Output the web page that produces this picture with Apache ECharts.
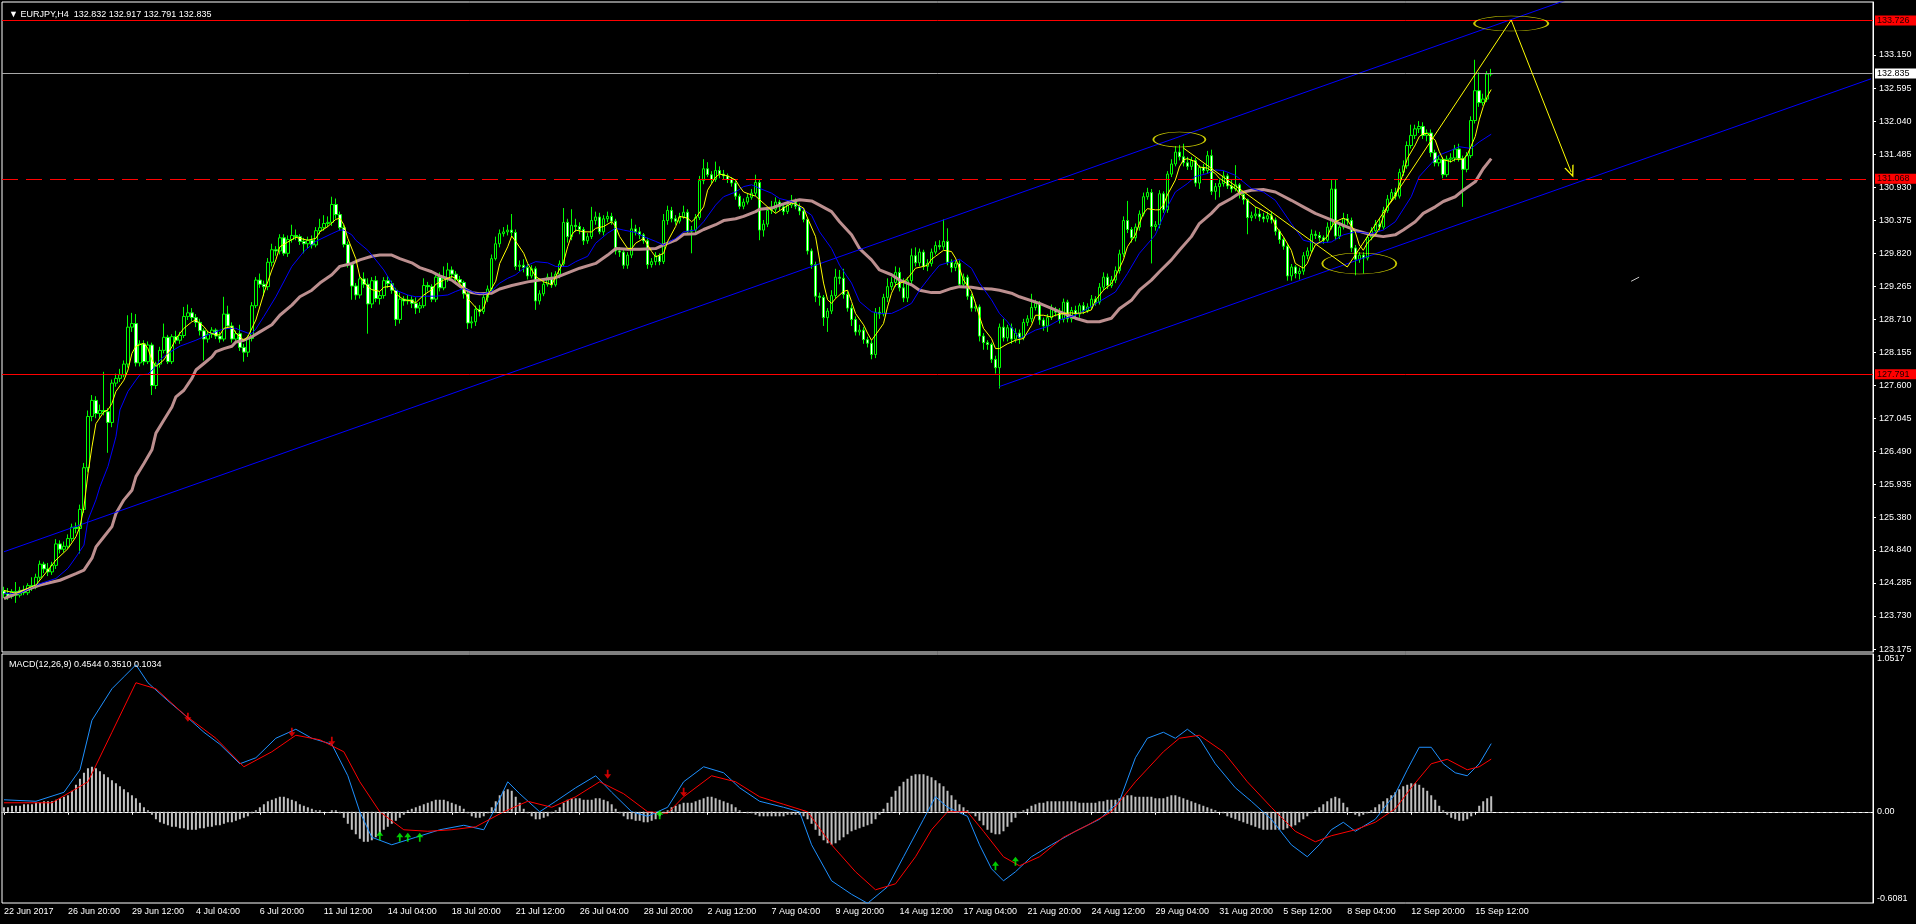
<!DOCTYPE html>
<html><head><meta charset="utf-8">
<script src="https://cdn.jsdelivr.net/npm/echarts@6/dist/echarts.min.js"></script>
<style>html,body{margin:0;padding:0;background:#000;overflow:hidden}#c{width:1916px;height:924px}</style>
</head><body><div id="c"></div>
<script>
const symbolName = 'EURJPY,H4';
const tickLabels = ['22 Jun 2017','26 Jun 20:00','29 Jun 12:00','4 Jul 04:00','6 Jul 20:00','11 Jul 12:00','14 Jul 04:00','18 Jul 20:00','21 Jul 12:00','26 Jul 04:00','28 Jul 20:00','2 Aug 12:00','7 Aug 04:00','9 Aug 20:00','14 Aug 12:00','17 Aug 04:00','21 Aug 20:00','24 Aug 12:00','29 Aug 04:00','31 Aug 20:00','5 Sep 12:00','8 Sep 04:00','12 Sep 20:00','15 Sep 12:00'];
const priceTicks = [123.175,123.730,124.285,124.840,125.380,125.935,126.490,127.045,127.600,128.155,128.710,129.265,129.820,130.375,130.930,131.485,132.040,132.595,133.150];
const macdTicks = [-0.6081, 0, 1.0517];

const open = [
124.15,124.10,124.06,124.14,124.08,124.16,124.12,124.24,124.22,124.38,
124.60,124.52,124.47,124.58,124.94,124.85,124.90,125.03,125.22,125.20,
125.52,126.22,127.08,127.35,127.13,127.18,127.16,126.98,127.64,127.72,
127.78,127.96,128.58,128.64,127.98,128.30,128.00,128.28,127.60,127.96,
128.19,128.41,128.00,128.42,128.36,128.44,128.76,128.82,128.74,128.66,
128.52,128.38,128.46,128.53,128.43,128.38,128.80,128.60,128.38,128.47,
128.24,128.16,128.39,128.94,129.37,129.30,129.26,129.67,129.88,129.86,
130.08,129.82,130.05,130.12,130.10,130.02,129.98,130.04,129.96,130.20,
130.25,130.32,130.34,130.64,130.47,130.25,129.97,129.63,129.27,129.12,
129.39,129.30,128.97,129.36,129.06,129.11,129.36,129.31,129.20,128.71,
129.05,129.02,129.04,128.98,128.90,128.94,129.28,129.26,129.05,129.42,
129.24,129.40,129.54,129.47,129.38,129.33,129.14,128.65,128.67,128.88,
128.84,129.08,129.22,129.73,129.98,130.15,130.18,130.21,130.17,129.60,
129.62,129.58,129.44,129.56,129.02,129.14,129.30,129.42,129.29,129.47,
129.64,130.34,130.10,130.29,130.27,130.22,130.03,130.10,130.37,130.43,
130.18,130.40,130.44,130.36,129.86,129.84,129.62,129.79,130.23,130.18,
130.13,130.03,129.63,129.68,129.78,129.68,130.37,130.54,130.40,130.36,
130.43,130.51,130.19,130.21,130.42,131.04,131.24,131.14,131.06,131.21,
131.15,131.12,131.06,131.00,130.78,130.61,130.68,130.76,130.83,131.01,
130.21,130.31,130.54,130.56,130.68,130.60,130.52,130.63,130.68,130.61,
130.53,130.39,129.86,129.63,129.10,129.08,128.74,128.85,129.11,129.42,
129.40,129.13,128.90,128.71,128.50,128.53,128.37,128.31,128.12,128.83,
128.80,129.08,129.26,129.33,129.50,129.24,129.07,129.36,129.78,129.66,
129.84,129.60,129.65,129.84,129.95,129.93,130.02,129.67,129.58,129.65,
129.30,129.42,129.10,128.90,128.92,128.43,128.32,128.29,128.04,127.90,
128.58,128.40,128.57,128.38,128.48,128.40,128.66,128.72,128.91,128.98,
128.70,128.60,128.74,128.88,128.83,128.71,129.00,128.72,128.86,128.80,
128.94,128.86,128.92,129.05,129.00,129.25,129.42,129.28,129.37,129.53,
129.81,130.37,130.22,130.08,130.26,130.48,130.77,130.84,130.27,130.30,
130.82,130.55,131.15,131.32,131.52,131.44,131.34,131.28,131.38,131.00,
131.26,131.21,131.46,130.86,130.94,130.99,131.12,130.95,130.90,130.97,
130.81,130.72,130.42,130.45,130.48,130.43,130.40,130.45,130.38,130.19,
130.05,129.94,129.44,129.59,129.48,129.52,129.78,129.86,130.14,130.12,
130.08,130.04,130.26,130.90,130.11,130.26,130.40,130.37,129.91,129.72,
129.79,129.74,130.09,130.20,130.31,130.26,130.54,130.73,130.84,130.78,
131.18,131.29,131.63,131.80,131.91,131.95,131.80,131.84,131.51,131.34,
131.40,131.14,131.40,131.42,131.57,131.41,131.23,131.46,132.05,132.55,
132.35,132.41,132.832];
const high = [
124.22,124.20,124.18,124.30,124.22,124.24,124.28,124.38,124.44,124.66,
124.64,124.62,124.64,125.02,125.00,124.98,125.10,125.28,125.30,125.60,
126.30,127.18,127.44,127.42,127.28,127.83,127.22,127.70,127.80,127.88,
128.02,128.78,128.82,128.80,128.36,128.36,128.34,128.32,128.00,128.25,
128.64,128.45,128.46,128.52,128.50,128.92,128.96,128.90,128.80,128.72,
128.56,128.52,128.58,128.56,128.50,129.09,128.94,128.66,128.52,128.62,
128.30,128.44,129.00,129.42,129.48,129.36,129.74,129.98,129.94,130.14,
130.14,130.12,130.30,130.22,130.14,130.08,130.10,130.12,130.26,130.40,
130.46,130.44,130.77,130.74,130.52,130.30,130.02,129.66,129.32,129.46,
129.50,129.40,129.42,129.44,129.18,129.42,129.44,129.36,129.24,129.16,
129.10,129.12,129.10,129.08,129.00,129.40,129.34,129.30,129.50,129.50,
129.60,129.66,129.60,129.52,129.44,129.36,129.18,128.76,128.94,128.95,
129.14,129.28,129.80,130.10,130.22,130.26,130.30,130.48,130.22,129.70,
129.72,129.64,129.62,129.60,129.20,129.36,129.48,129.50,129.52,129.70,
130.58,130.40,130.56,130.40,130.34,130.26,130.16,130.60,130.52,130.50,
130.46,130.52,130.50,130.40,129.92,129.90,129.84,130.40,130.30,130.26,
130.16,130.08,129.74,129.84,129.82,130.48,130.62,130.60,130.46,130.50,
130.62,130.56,130.28,130.48,131.12,131.40,131.35,131.20,131.36,131.28,
131.22,131.16,131.10,131.04,130.82,130.74,130.82,130.90,131.14,131.06,
130.38,130.60,130.70,130.76,130.72,130.66,130.68,130.80,130.74,130.66,
130.58,130.42,129.90,129.68,129.16,129.12,128.90,129.20,129.56,129.54,
129.56,129.18,128.96,128.76,128.62,128.58,128.42,128.36,128.90,128.92,
129.14,129.40,129.42,129.60,129.58,129.40,129.42,129.90,129.92,129.90,
129.88,129.72,129.90,130.02,130.04,130.39,130.24,129.72,129.70,129.70,
129.48,129.46,129.14,128.98,128.96,128.48,128.36,128.32,128.10,128.64,
128.72,128.62,128.64,128.56,128.54,128.72,128.78,129.14,129.04,129.02,
128.74,128.80,128.96,128.92,128.90,129.06,129.04,128.92,128.94,128.98,
129.00,128.98,129.12,129.10,129.32,129.50,129.48,129.44,129.60,129.88,
130.44,130.70,130.26,130.32,130.54,130.84,130.92,130.90,130.36,130.88,
130.86,131.20,131.40,131.62,131.64,131.66,131.44,131.44,131.42,131.30,
131.32,131.54,131.56,131.00,131.06,131.20,131.16,131.06,131.30,131.00,
130.86,130.74,130.52,130.60,130.56,130.50,130.52,130.52,130.42,130.22,
130.08,129.98,129.64,129.62,129.58,129.84,129.92,130.22,130.20,130.18,
130.12,130.34,131.05,131.05,130.32,130.50,130.48,130.42,129.96,129.84,
129.84,130.16,130.26,130.38,130.40,130.60,130.80,130.90,130.92,131.24,
131.38,131.70,131.98,131.98,132.04,132.02,131.90,131.90,131.56,131.46,
131.44,131.46,131.50,131.64,131.66,131.46,131.52,132.12,133.07,132.86,
132.50,132.88,132.917];
const low = [
124.03,124.00,124.02,123.95,124.04,124.08,124.08,124.15,124.18,124.34,
124.45,124.40,124.42,124.52,124.78,124.80,124.86,124.98,125.12,124.78,
125.46,126.15,127.00,127.05,127.05,127.10,126.47,126.90,127.58,127.66,
127.74,127.90,128.50,127.92,127.92,127.94,127.96,127.44,127.54,127.90,
128.14,127.96,127.96,128.30,128.30,128.40,128.70,128.68,128.58,128.44,
128.02,128.32,128.40,128.38,128.32,128.34,128.56,128.32,128.34,128.18,
128.00,128.08,128.34,128.90,129.24,129.10,129.20,129.60,129.78,129.80,
129.78,129.76,130.00,130.04,129.96,129.82,129.90,129.90,129.92,130.14,
130.20,130.26,130.28,130.40,130.20,129.92,129.58,129.04,129.04,129.06,
129.24,128.47,128.90,129.00,128.96,129.06,129.24,129.14,128.60,128.64,
128.94,128.96,128.90,128.80,128.82,128.90,129.18,129.00,129.00,129.18,
129.20,129.34,129.40,129.30,129.26,129.06,128.55,128.56,128.60,128.76,
128.80,129.00,129.18,129.70,129.92,130.10,130.12,130.10,129.54,129.52,
129.50,129.38,129.40,128.87,128.96,129.10,129.26,129.24,129.26,129.40,
129.60,130.00,130.04,130.18,130.14,129.96,129.98,130.06,130.30,130.14,
130.12,130.34,130.30,129.80,129.76,129.56,129.56,129.74,130.12,130.06,
129.98,129.56,129.58,129.62,129.62,129.64,130.30,130.34,130.30,130.32,
130.40,130.14,129.82,130.16,130.38,130.98,131.10,131.00,131.02,131.08,
131.06,131.00,130.94,130.72,130.56,130.56,130.64,130.72,130.78,130.04,
130.10,130.26,130.48,130.50,130.54,130.46,130.48,130.58,130.56,130.46,
130.34,129.80,129.56,129.00,128.94,128.60,128.50,128.80,129.06,129.30,
129.06,128.84,128.60,128.44,128.44,128.30,128.24,128.04,128.06,128.72,
128.76,129.00,129.20,129.26,129.18,129.00,129.00,129.30,129.60,129.60,
129.54,129.52,129.60,129.80,129.88,129.88,129.62,129.50,129.52,129.24,
129.24,129.04,128.84,128.84,128.34,128.20,128.20,127.98,127.80,127.55,
128.34,128.34,128.30,128.32,128.30,128.36,128.60,128.66,128.86,128.62,
128.52,128.50,128.70,128.76,128.64,128.66,128.66,128.66,128.74,128.74,
128.80,128.82,128.88,128.94,128.96,129.20,129.22,129.24,129.32,129.48,
129.76,130.16,130.00,130.02,130.20,130.44,130.72,129.65,130.20,130.24,
130.50,130.50,131.10,131.28,131.38,131.28,131.22,131.22,130.94,130.90,
131.16,131.16,130.80,130.72,130.76,130.94,130.90,130.84,130.86,130.74,
130.64,130.14,130.36,130.40,130.36,130.34,130.34,130.32,130.12,129.98,
129.88,129.36,129.36,129.40,129.38,129.46,129.72,129.82,130.06,130.02,
129.98,130.00,130.22,130.04,130.06,130.22,130.30,129.84,129.45,129.66,
129.48,129.70,130.04,130.14,130.20,130.22,130.50,130.68,130.72,130.74,
131.12,131.24,131.58,131.74,131.84,131.74,131.70,131.44,131.28,131.28,
131.08,131.10,131.34,131.36,131.36,130.60,131.18,131.42,132.00,132.28,
132.30,132.36,132.791];
const close = [
124.10,124.06,124.14,124.08,124.16,124.12,124.24,124.22,124.38,124.60,
124.52,124.47,124.58,124.94,124.85,124.90,125.03,125.22,125.20,125.52,
126.22,127.08,127.35,127.13,127.18,127.16,126.98,127.64,127.72,127.78,
127.96,128.58,128.64,127.98,128.30,128.00,128.28,127.60,127.96,128.19,
128.41,128.00,128.42,128.36,128.44,128.76,128.82,128.74,128.66,128.52,
128.38,128.46,128.53,128.43,128.38,128.80,128.60,128.38,128.47,128.24,
128.16,128.39,128.94,129.37,129.30,129.26,129.67,129.88,129.86,130.08,
129.82,130.05,130.12,130.10,130.02,129.98,130.04,129.96,130.20,130.25,
130.32,130.34,130.64,130.47,130.25,129.97,129.63,129.27,129.12,129.39,
129.30,128.97,129.36,129.06,129.11,129.36,129.31,129.20,128.71,129.05,
129.02,129.04,128.98,128.90,128.94,129.28,129.26,129.05,129.42,129.24,
129.40,129.54,129.47,129.38,129.33,129.14,128.65,128.67,128.88,128.84,
129.08,129.22,129.73,129.98,130.15,130.18,130.21,130.17,129.60,129.62,
129.58,129.44,129.56,129.02,129.14,129.30,129.42,129.29,129.47,129.64,
130.34,130.10,130.29,130.27,130.22,130.03,130.10,130.37,130.43,130.18,
130.40,130.44,130.36,129.86,129.84,129.62,129.79,130.23,130.18,130.13,
130.03,129.63,129.68,129.78,129.68,130.37,130.54,130.40,130.36,130.43,
130.51,130.19,130.21,130.42,131.04,131.24,131.14,131.06,131.21,131.15,
131.12,131.06,131.00,130.78,130.61,130.68,130.76,130.83,131.01,130.21,
130.31,130.54,130.56,130.68,130.60,130.52,130.63,130.68,130.61,130.53,
130.39,129.86,129.63,129.10,129.08,128.74,128.85,129.11,129.42,129.40,
129.13,128.90,128.71,128.50,128.53,128.37,128.31,128.12,128.83,128.80,
129.08,129.26,129.33,129.50,129.24,129.07,129.36,129.78,129.66,129.84,
129.60,129.65,129.84,129.95,129.93,130.02,129.67,129.58,129.65,129.30,
129.42,129.10,128.90,128.92,128.43,128.32,128.29,128.04,127.90,128.58,
128.40,128.57,128.38,128.48,128.40,128.66,128.72,128.91,128.98,128.70,
128.60,128.74,128.88,128.83,128.71,129.00,128.72,128.86,128.80,128.94,
128.86,128.92,129.05,129.00,129.25,129.42,129.28,129.37,129.53,129.81,
130.37,130.22,130.08,130.26,130.48,130.77,130.84,130.27,130.30,130.82,
130.55,131.15,131.32,131.52,131.44,131.34,131.28,131.38,131.00,131.26,
131.21,131.46,130.86,130.94,130.99,131.12,130.95,130.90,130.97,130.81,
130.72,130.42,130.45,130.48,130.43,130.40,130.45,130.38,130.19,130.05,
129.94,129.44,129.59,129.48,129.52,129.78,129.86,130.14,130.12,130.08,
130.04,130.26,130.90,130.11,130.26,130.40,130.37,129.91,129.72,129.79,
129.74,130.09,130.20,130.31,130.26,130.54,130.73,130.84,130.78,131.18,
131.29,131.63,131.80,131.91,131.95,131.80,131.84,131.51,131.34,131.40,
131.14,131.40,131.42,131.57,131.41,131.23,131.46,132.05,132.55,132.35,
132.41,132.83,132.835];

// moving averages: [bar index, price]
const maFast = [[0,124.16],[3,124.11],[8,124.25],[11,124.50],[13,124.67],[16,124.86],[18,125.06],[19,125.23],[20,125.56],[21,126.12],[22,126.57],[23,126.96],[25,127.16],[26,127.19],[27,127.30],[28,127.50],[30,127.69],[31,127.86],[32,128.14],[33,128.26],[35,128.31],[36,128.22],[37,128.03],[38,127.92],[40,128.03],[41,128.14],[42,128.25],[43,128.39],[45,128.56],[47,128.67],[48,128.70],[50,128.59],[51,128.50],[53,128.45],[54,128.45],[55,128.56],[57,128.59],[58,128.48],[60,128.36],[61,128.42],[63,128.70],[65,129.15],[67,129.54],[68,129.71],[69,129.93],[71,130.01],[73,130.09],[74,130.07],[76,130.04],[78,130.07],[79,130.18],[81,130.27],[83,130.39],[84,130.41],[85,130.30],[86,130.07],[88,129.73],[89,129.43],[91,129.26],[92,129.21],[94,129.18],[95,129.25],[97,129.27],[98,129.14],[100,129.04],[102,129.02],[103,128.99],[105,129.12],[107,129.21],[108,129.30],[110,129.37],[112,129.43],[113,129.40],[115,129.23],[116,129.06],[118,128.91],[119,128.84],[120,128.90],[121,129.12],[123,129.35],[124,129.65],[126,129.93],[127,130.11],[128,130.02],[130,129.82],[131,129.65],[132,129.54],[133,129.43],[135,129.34],[136,129.32],[137,129.29],[138,129.43],[140,129.68],[141,129.93],[142,130.13],[143,130.21],[145,130.18],[147,130.18],[148,130.24],[150,130.27],[152,130.35],[153,130.27],[154,130.10],[156,129.90],[157,129.90],[158,129.99],[160,130.07],[161,129.96],[162,129.85],[163,129.76],[165,129.82],[166,130.02],[168,130.27],[169,130.44],[171,130.41],[172,130.35],[173,130.41],[175,130.60],[176,130.88],[178,131.10],[179,131.15],[181,131.12],[183,131.05],[184,130.94],[185,130.85],[187,130.80],[188,130.78],[191,130.60],[193,130.49],[195,130.58],[197,130.66],[198,130.65],[200,130.58],[201,130.41],[203,130.10],[204,129.71],[205,129.32],[206,129.04],[207,128.98],[208,129.06],[210,129.18],[211,129.20],[212,129.01],[213,128.81],[215,128.62],[216,128.48],[217,128.36],[218,128.45],[220,128.64],[221,128.92],[222,129.15],[223,129.29],[225,129.34],[226,129.40],[227,129.48],[228,129.57],[230,129.60],[231,129.62],[232,129.72],[233,129.77],[235,129.87],[237,129.85],[238,129.74],[239,129.57],[240,129.37],[242,129.18],[243,128.98],[244,128.76],[245,128.56],[247,128.39],[248,128.22],[249,128.22],[251,128.30],[253,128.36],[255,128.39],[257,128.61],[258,128.78],[260,128.78],[262,128.75],[263,128.78],[265,128.81],[267,128.82],[268,128.81],[270,128.82],[272,128.87],[273,129.03],[275,129.20],[277,129.31],[278,129.43],[280,129.71],[281,129.93],[283,130.13],[284,130.32],[285,130.49],[286,130.57],[288,130.55],[289,130.55],[290,130.63],[291,130.80],[293,131.05],[294,131.27],[295,131.39],[296,131.41],[298,131.36],[299,131.27],[301,131.25],[303,131.16],[304,131.08],[306,130.99],[308,130.91],[309,130.83],[311,130.71],[313,130.60],[314,130.57],[317,130.46],[318,130.29],[320,130.10],[322,129.87],[323,129.65],[325,129.57],[326,129.65],[327,129.82],[328,129.96],[330,130.04],[331,130.10],[332,130.26],[333,130.35],[335,130.41],[336,130.38],[338,130.18],[339,129.96],[340,129.87],[341,129.99],[343,130.13],[344,130.24],[345,130.43],[346,130.60],[348,130.77],[349,130.97],[350,131.16],[351,131.41],[353,131.64],[354,131.78],[355,131.83],[356,131.83],[358,131.72],[359,131.53],[360,131.39],[362,131.36],[363,131.40],[365,131.40],[366,131.47],[368,131.78],[369,132.06],[370,132.28],[371,132.45],[372,132.57]];
const maMid = [[0,124.11],[4,124.11],[8,124.25],[13,124.36],[16,124.53],[18,124.72],[20,124.92],[21,125.34],[23,125.68],[24,125.90],[26,126.24],[28,126.74],[29,127.19],[31,127.50],[33,127.69],[34,127.78],[36,127.79],[38,127.92],[39,128.03],[41,128.14],[43,128.22],[44,128.26],[46,128.31],[48,128.36],[49,128.39],[51,128.45],[53,128.50],[54,128.53],[56,128.56],[58,128.56],[59,128.53],[61,128.48],[62,128.47],[63,128.55],[65,128.76],[68,129.09],[72,129.60],[75,129.85],[78,130.02],[82,130.15],[84,130.21],[85,130.21],[87,130.13],[88,130.04],[91,129.87],[93,129.71],[95,129.54],[97,129.32],[98,129.20],[101,129.12],[103,129.09],[106,129.10],[108,129.10],[111,129.12],[113,129.18],[115,129.23],[117,129.18],[118,129.15],[120,129.14],[122,129.18],[123,129.26],[124,129.32],[126,129.40],[128,129.46],[131,129.62],[133,129.68],[136,129.66],[138,129.60],[141,129.60],[143,129.68],[146,129.77],[148,129.99],[151,130.16],[153,130.24],[155,130.21],[158,130.17],[160,130.10],[163,130.02],[165,129.96],[168,130.07],[170,130.18],[173,130.21],[175,130.35],[178,130.63],[180,130.77],[183,130.85],[185,130.94],[187,130.97],[189,130.91],[192,130.83],[194,130.74],[197,130.69],[199,130.60],[202,130.46],[204,130.18],[207,129.90],[209,129.62],[212,129.32],[214,129.01],[217,128.84],[219,128.81],[222,128.81],[224,128.87],[227,128.98],[229,129.20],[232,129.46],[234,129.62],[237,129.68],[239,129.72],[242,129.57],[244,129.32],[247,129.04],[249,128.81],[251,128.67],[254,128.39],[258,128.53],[261,128.59],[264,128.70],[268,128.78],[271,128.89],[274,129.01],[278,129.17],[281,129.48],[284,129.82],[288,130.13],[291,130.60],[293,130.85],[296,130.99],[298,131.11],[301,131.16],[303,131.22],[305,131.21],[308,131.13],[310,131.02],[312,130.91],[315,130.85],[318,130.71],[322,130.32],[325,130.04],[328,129.99],[332,130.01],[335,130.13],[338,130.18],[342,130.15],[345,130.21],[348,130.35],[352,130.77],[354,131.11],[357,131.33],[359,131.47],[362,131.55],[364,131.61],[367,131.58],[369,131.69],[372,131.82]];
const maSlow = [[0,124.02],[4,124.13],[9,124.25],[14,124.33],[18,124.44],[20,124.50],[22,124.70],[23,124.89],[25,125.06],[27,125.23],[28,125.45],[30,125.68],[32,125.84],[33,126.07],[35,126.29],[37,126.52],[38,126.80],[40,127.02],[42,127.24],[43,127.41],[45,127.52],[47,127.72],[48,127.86],[50,127.97],[52,128.08],[53,128.17],[55,128.22],[57,128.26],[58,128.33],[60,128.36],[62,128.42],[64,128.50],[67,128.62],[69,128.78],[72,128.95],[74,129.09],[77,129.20],[79,129.32],[82,129.46],[84,129.60],[87,129.65],[89,129.71],[92,129.77],[94,129.79],[97,129.79],[99,129.73],[102,129.66],[104,129.58],[107,129.51],[109,129.44],[112,129.37],[114,129.27],[117,129.16],[119,129.14],[122,129.15],[124,129.22],[127,129.28],[131,129.34],[134,129.37],[138,129.41],[141,129.49],[144,129.57],[148,129.65],[151,129.79],[153,129.90],[156,129.89],[159,129.89],[163,129.90],[165,129.96],[168,130.04],[170,130.14],[173,130.15],[175,130.22],[178,130.30],[180,130.37],[183,130.40],[185,130.44],[188,130.52],[189,130.56],[192,130.58],[194,130.63],[197,130.69],[199,130.72],[202,130.70],[204,130.63],[207,130.52],[209,130.35],[212,130.13],[214,129.90],[217,129.71],[219,129.54],[222,129.46],[224,129.37],[227,129.29],[229,129.20],[232,129.16],[234,129.16],[237,129.23],[239,129.26],[242,129.25],[244,129.23],[247,129.22],[249,129.20],[252,129.15],[254,129.09],[259,128.98],[264,128.84],[268,128.73],[271,128.67],[274,128.67],[277,128.73],[279,128.89],[282,129.03],[284,129.20],[287,129.37],[289,129.51],[292,129.71],[294,129.87],[297,130.10],[299,130.32],[302,130.49],[304,130.63],[307,130.74],[309,130.83],[312,130.88],[315,130.89],[318,130.85],[322,130.71],[325,130.60],[328,130.49],[332,130.38],[335,130.29],[338,130.21],[342,130.13],[345,130.10],[348,130.13],[350,130.21],[353,130.35],[355,130.49],[358,130.60],[360,130.69],[363,130.77],[365,130.88],[368,131.02],[370,131.24],[372,131.41]];

// MACD(12,26,9)
const macdMain = [[0,0.08],[8,0.07],[15,0.13],[19,0.28],[22,0.61],[27,0.82],[30,0.90],[33,0.98],[36,0.86],[41,0.74],[45,0.65],[50,0.53],[54,0.45],[59,0.32],[63,0.36],[68,0.49],[73,0.55],[77,0.49],[82,0.45],[86,0.24],[89,0.00],[92,-0.17],[97,-0.22],[103,-0.17],[109,-0.12],[115,-0.09],[120,-0.12],[123,0.03],[126,0.20],[129,0.12],[134,0.00],[138,0.07],[143,0.16],[148,0.24],[152,0.13],[157,0.00],[161,-0.03],[166,0.03],[170,0.20],[175,0.30],[180,0.26],[184,0.16],[189,0.07],[195,0.03],[199,0.00],[202,-0.22],[207,-0.46],[212,-0.55],[216,-0.61],[221,-0.50],[225,-0.30],[230,-0.05],[233,0.10],[236,0.03],[241,-0.03],[244,-0.22],[247,-0.38],[250,-0.46],[253,-0.40],[257,-0.30],[262,-0.22],[268,-0.13],[274,-0.05],[279,0.07],[283,0.36],[286,0.49],[290,0.53],[293,0.49],[296,0.55],[299,0.49],[303,0.32],[308,0.16],[312,0.07],[317,-0.05],[322,-0.22],[326,-0.30],[329,-0.22],[332,-0.12],[335,-0.07],[338,-0.13],[343,-0.05],[348,0.12],[351,0.28],[354,0.43],[357,0.43],[360,0.32],[363,0.26],[366,0.24],[369,0.32],[372,0.4544]];
const macdSignal = [[0,0.06],[12,0.06],[21,0.20],[27,0.53],[33,0.86],[38,0.82],[45,0.65],[53,0.49],[60,0.30],[67,0.40],[73,0.51],[79,0.48],[85,0.40],[89,0.20],[94,0.00],[100,-0.12],[106,-0.13],[112,-0.12],[118,-0.10],[125,0.00],[131,0.07],[137,0.03],[143,0.10],[149,0.20],[155,0.12],[161,0.00],[166,-0.01],[170,0.10],[177,0.24],[183,0.20],[189,0.10],[195,0.05],[201,0.00],[207,-0.22],[213,-0.40],[218,-0.52],[223,-0.48],[228,-0.30],[232,-0.12],[236,0.00],[241,0.00],[245,-0.13],[250,-0.30],[254,-0.36],[259,-0.30],[265,-0.17],[271,-0.09],[277,0.00],[283,0.20],[290,0.40],[294,0.49],[299,0.51],[305,0.40],[311,0.20],[317,0.03],[323,-0.13],[328,-0.20],[332,-0.16],[338,-0.12],[343,-0.07],[348,0.02],[352,0.16],[357,0.32],[361,0.35],[366,0.28],[369,0.30],[372,0.3510]];
const macdHist = [
0.03,0.03,0.04,0.04,0.04,0.05,
0.05,0.05,0.06,0.06,0.07,0.07,0.07,0.08,0.09,0.10,0.11,
0.14,0.18,0.22,0.26,0.29,0.30,0.29,0.27,
0.25,0.23,0.21,0.19,0.17,0.15,0.13,0.11,0.09,
0.06,0.03,0.01,-0.02,
-0.05,-0.07,-0.08,-0.09,-0.10,-0.10,-0.11,-0.11,-0.12,-0.12,-0.12,-0.11,-0.11,-0.10,-0.10,-0.09,-0.09,-0.08,-0.07,-0.07,-0.06,-0.05,-0.04,
-0.03,-0.01,0.01,0.03,0.05,
0.07,0.08,0.09,0.10,0.10,0.09,0.08,0.07,0.05,
0.04,0.03,0.02,0.01,0.01,0.00,0.00,0.01,0.01,-0.01,-0.04,
-0.08,-0.12,-0.15,-0.18,-0.20,-0.20,-0.19,-0.17,-0.15,
-0.12,-0.10,-0.08,-0.06,-0.04,-0.02,
0.01,0.02,0.03,0.04,0.05,0.06,0.07,0.08,0.08,0.08,0.07,0.06,0.05,0.04,0.02,
-0.01,-0.03,-0.04,-0.04,-0.03,-0.01,
0.03,0.07,0.11,0.14,0.15,0.14,0.10,
0.06,0.02,-0.01,-0.03,-0.05,-0.05,-0.04,-0.03,-0.01,
0.01,0.03,0.06,0.08,0.09,0.09,0.09,0.08,0.08,0.08,0.09,0.09,0.08,0.07,0.05,
0.02,-0.01,-0.03,-0.05,-0.05,-0.06,-0.06,-0.07,-0.07,-0.06,-0.05,-0.03,-0.01,
0.01,0.03,0.04,0.05,0.06,0.06,0.06,0.07,0.08,0.09,0.10,0.10,0.09,0.08,0.07,0.06,0.05,0.03,
0.01,0.00,-0.01,-0.01,-0.02,-0.03,-0.03,-0.03,-0.03,-0.03,-0.03,-0.03,-0.02,-0.02,-0.02,-0.02,-0.03,-0.05,
-0.08,-0.12,-0.16,-0.19,-0.21,-0.22,-0.21,-0.19,-0.17,-0.15,-0.13,-0.12,
-0.11,-0.10,-0.09,-0.08,-0.05,-0.02,
0.02,0.06,0.10,0.14,0.17,0.20,0.22,0.24,0.25,0.25,0.25,0.24,0.23,0.21,0.19,0.17,0.14,0.11,0.08,
0.05,0.03,0.01,-0.01,-0.03,-0.06,
-0.09,-0.12,-0.14,-0.15,-0.15,-0.13,-0.10,-0.07,-0.04,
-0.01,0.01,0.02,
0.04,0.05,0.06,0.06,0.07,0.07,0.07,0.07,0.07,0.07,0.07,0.07,0.06,0.06,0.06,0.06,0.06,0.07,0.07,0.08,0.08,0.08,0.09,0.10,0.11,0.11,0.10,0.10,
0.10,0.10,0.10,0.09,0.09,0.09,0.10,0.11,0.11,0.10,0.09,0.08,0.07,0.06,0.05,0.04,0.03,0.02,0.01,0.00,-0.01,
-0.03,-0.04,-0.05,-0.06,-0.07,-0.08,-0.09,-0.10,-0.11,-0.12,-0.12,-0.12,-0.12,-0.12,-0.12,-0.11,-0.10,-0.09,
-0.07,-0.05,-0.03,-0.01,0.01,0.03,0.05,
0.07,0.09,0.10,0.09,0.06,0.03,
0.00,-0.02,-0.03,-0.02,-0.01,0.01,
0.03,0.05,0.07,0.09,0.11,0.13,0.15,0.17,0.18,0.19,0.19,0.18,0.16,0.14,0.11,0.08,0.04,
0.01,-0.02,-0.04,-0.05,-0.06,-0.06,-0.05,-0.03,0.00,
0.04,0.07,0.09,0.1034];
const sellArrows = [[46,0.63],[72,0.53],[82,0.47],[151,0.25],[170,0.13]];
const buyArrows = [[94,-0.16],[99,-0.17],[101,-0.17],[104,-0.17],[164,-0.02],[248,-0.36],[253,-0.33]];

// chart objects
const levels = [133.726, 127.791];
const dashedLevel = 131.068;
const bidLevel = 132.835;
const channelUpper = [[0,124.808],[420,134.765]];
const channelLower = [[249,127.583],[467,132.750]];
const zigzag = [[295,131.588],[336,129.590],[377,133.738]];
const arrowLeg = [[377,133.738],[392,131.185]];
const ellipseCenters = [[294,131.731],[339,129.649],[377,133.679]];
const strayMark = [[407,129.35],[409,129.42]];
const futureBars = 95;

// ---------- build ----------
const ellipseSizes = [[52,15],[74,21],[74,15]];
const FONT = 'Liberation Sans';
const N = close.length + futureBars;
const cats = Array.from({length: N}, (_, i) => String(i));
const candles = close.map((c, i) => [open[i], c, low[i], high[i]]);
const last = close.length - 1;
const header = '\u25BC ' + symbolName + '  ' + [open[last], high[last], low[last], close[last]].map(v => v.toFixed(3)).join(' ');
const macdHeader = 'MACD(12,26,9) ' + [macdMain[macdMain.length-1][1], macdSignal[macdSignal.length-1][1], macdHist[macdHist.length-1]].map(v => v.toFixed(4)).join(' ');
const tickShow = (idx) => idx % 16 === 0 && idx / 16 < tickLabels.length;
const txt = {color: '#ffffff', fontSize: 9, fontFamily: FONT, fontWeight: 'normal'};
function lvlLabel(val, bg, fg) {
  const s = val.toFixed(3);
  return {show: true, position: 'end', distance: 2, formatter: () => s,
    backgroundColor: bg, color: fg, fontFamily: FONT, fontSize: 9, padding: [1, 8, 0, 2]};
}
const lineBase = {type: 'line', symbol: 'none', silent: true, xAxisIndex: 0, yAxisIndex: 0, animation: false};

const chart = echarts.init(document.getElementById('c'));
chart.setOption({
  backgroundColor: '#000000',
  animation: false,
  title: [
    {text: header, left: 4, top: 5, textStyle: txt},
    {text: macdHeader, left: 4, top: 655, textStyle: txt}
  ],
  grid: [
    {left: 2, top: 2, width: 1871, height: 650, show: true, borderColor: '#ffffff', borderWidth: 1, backgroundColor: 'transparent'},
    {left: 2, top: 654, width: 1871, height: 249, show: true, borderColor: '#ffffff', borderWidth: 1, backgroundColor: 'transparent'}
  ],
  xAxis: [
    {type: 'category', gridIndex: 0, data: cats, boundaryGap: true, axisLine: {show: false}, axisTick: {show: false}, axisLabel: {show: false}, splitLine: {show: false}},
    {type: 'category', gridIndex: 1, data: cats, boundaryGap: true,
     axisLine: {show: true, lineStyle: {color: '#ffffff'}},
     axisTick: {show: true, alignWithLabel: true, interval: tickShow, length: 3, lineStyle: {color: '#ffffff'}},
     axisLabel: {show: true, interval: tickShow, formatter: (v, i) => tickLabels[i / 16], color: '#ffffff', fontSize: 9, fontFamily: FONT, align: 'left', margin: 4},
     splitLine: {show: false}}
  ],
  yAxis: [
    {type: 'value', gridIndex: 0, position: 'right', min: 123.125, max: 134.040, scale: true,
     axisLine: {show: true, lineStyle: {color: '#ffffff'}},
     axisTick: {show: true, length: 3, customValues: priceTicks, lineStyle: {color: '#ffffff'}},
     axisLabel: {show: true, customValues: priceTicks, formatter: v => v.toFixed(3), color: '#ffffff', fontSize: 9, fontFamily: FONT, margin: 6},
     splitLine: {show: false}},
    {type: 'value', gridIndex: 1, position: 'right', min: -0.6081, max: 1.0517, scale: true,
     axisLine: {show: true, lineStyle: {color: '#ffffff'}},
     axisTick: {show: false},
     axisLabel: {show: true, customValues: macdTicks, formatter: v => (v === 0 ? '0.00' : v.toFixed(4)), color: '#ffffff', fontSize: 9, fontFamily: FONT, margin: 4,
       verticalAlignMaxLabel: 'top', verticalAlignMinLabel: 'bottom'},
     splitLine: {show: false}}
  ],
  series: [
    {type: 'candlestick', xAxisIndex: 0, yAxisIndex: 0, data: candles, barWidth: 3, silent: true,
     itemStyle: {color: '#000000', color0: '#ffffff', borderColor: '#00ff00', borderColor0: '#00ff00', borderWidth: 1},
     markLine: {symbol: 'none', silent: true, animation: false,
       data: [
         {yAxis: levels[0], lineStyle: {color: '#ff0000', width: 1, type: 'solid'}, label: lvlLabel(levels[0], '#ff0000', '#200000')},
         {yAxis: levels[1], lineStyle: {color: '#ff0000', width: 1, type: 'solid'}, label: lvlLabel(levels[1], '#ff0000', '#200000')},
         {yAxis: dashedLevel, lineStyle: {color: '#ff0000', width: 1, type: [16, 8]}, label: lvlLabel(dashedLevel, '#ff0000', '#200000')},
         {yAxis: bidLevel, lineStyle: {color: '#a8a8a8', width: 1, type: 'solid'}, label: lvlLabel(bidLevel, '#ffffff', '#000000')}
       ]}},
    Object.assign({}, lineBase, {data: maSlow, lineStyle: {color: '#bc8f8f', width: 3}, z: 3}),
    Object.assign({}, lineBase, {data: maMid, lineStyle: {color: '#0000ff', width: 1}, z: 4}),
    Object.assign({}, lineBase, {data: maFast, lineStyle: {color: '#ffff00', width: 1}, z: 5}),
    Object.assign({}, lineBase, {data: channelUpper, lineStyle: {color: '#0000ff', width: 1}, z: 4}),
    Object.assign({}, lineBase, {data: channelLower, lineStyle: {color: '#0000ff', width: 1}, z: 4}),
    Object.assign({}, lineBase, {data: strayMark, lineStyle: {color: '#c8c8c8', width: 1}, z: 4}),
    Object.assign({}, lineBase, {data: zigzag, lineStyle: {color: '#ffff00', width: 1}, z: 5,
      markLine: {silent: true, animation: false, symbol: ['none', 'path://M0,10 L5,0 L10,10 L8.6,10 L5,2.8 L1.4,10 Z'], symbolSize: [10, 12],
        lineStyle: {color: '#ffff00', width: 1, type: 'solid'}, label: {show: false},
        data: [[{coord: arrowLeg[0]}, {coord: arrowLeg[1]}]]}}),
    {type: 'scatter', xAxisIndex: 0, yAxisIndex: 0, silent: true, z: 6, symbol: 'circle',
     data: ellipseCenters.map((c, k) => ({value: c, symbolSize: ellipseSizes[k]})),
     itemStyle: {color: 'rgba(0,0,0,0)', borderColor: '#ffff00', borderWidth: 1}},
    {type: 'bar', xAxisIndex: 1, yAxisIndex: 1, data: macdHist, barWidth: 2, silent: true,
     itemStyle: {color: '#c0c0c0'},
     markLine: {symbol: 'none', silent: true, animation: false, label: {show: false},
       data: [{yAxis: 0, lineStyle: {color: '#c0c0c0', width: 1, type: [3, 3]}}]}},
    {type: 'line', xAxisIndex: 1, yAxisIndex: 1, symbol: 'none', silent: true, data: macdMain, lineStyle: {color: '#1e90ff', width: 1}, z: 4},
    {type: 'line', xAxisIndex: 1, yAxisIndex: 1, symbol: 'none', silent: true, data: macdSignal, lineStyle: {color: '#ff0000', width: 1}, z: 4},
    {type: 'scatter', xAxisIndex: 1, yAxisIndex: 1, silent: true, z: 6, data: sellArrows,
     symbol: 'path://M3,0 L5,0 L5,5 L8,5 L4,10 L0,5 L3,5 Z', symbolSize: [7, 9], itemStyle: {color: '#ff0000'}},
    {type: 'scatter', xAxisIndex: 1, yAxisIndex: 1, silent: true, z: 6, data: buyArrows,
     symbol: 'path://M4,0 L8,5 L5,5 L5,10 L3,10 L3,5 L0,5 Z', symbolSize: [7, 9], itemStyle: {color: '#00ff00'}}
  ]
});
</script>
</body></html>
